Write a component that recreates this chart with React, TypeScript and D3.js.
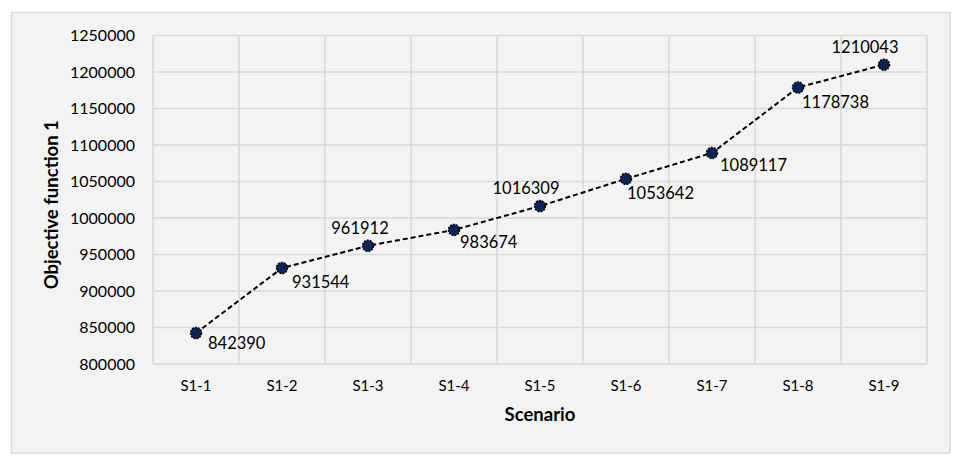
import React from "react";
import * as d3 from "d3";

const categories = ["S1-1", "S1-2", "S1-3", "S1-4", "S1-5", "S1-6", "S1-7", "S1-8", "S1-9"];
const values = [842390, 931544, 961912, 983674, 1016309, 1053642, 1089117, 1178738, 1210043];
const yTicks = [800000, 850000, 900000, 950000, 1000000, 1050000, 1100000, 1150000, 1200000, 1250000];
// label placement per point: [dx, dy, anchor]
const labelPlacement: [number, number, string][] = [
  [12, 16, "start"],
  [10, 20, "start"],
  [-8, -12, "middle"],
  [6, 18, "start"],
  [-14, -12, "middle"],
  [1, 20, "start"],
  [8, 18, "start"],
  [4, 20, "start"],
  [-19, -12, "middle"],
];

const W = 967;
const H = 467;
const plot = { left: 153, right: 927, top: 35.5, bottom: 364 };
const FONT = "Lato, 'Open Sans', sans-serif";

export default function App() {
  const x = d3
    .scaleBand<string>()
    .domain(categories)
    .range([plot.left, plot.right])
    .paddingInner(0)
    .paddingOuter(0);
  const y = d3.scaleLinear().domain([800000, 1250000]).range([plot.bottom, plot.top]);
  const cx = (c: string) => (x(c) ?? 0) + x.bandwidth() / 2;
  const line = d3
    .line<number>()
    .x((_, i) => cx(categories[i]))
    .y((d) => y(d));

  const gridX = categories.map((c) => x(c) ?? 0).concat([plot.right]);

  return (
    <svg
      width={W}
      height={H}
      style={{ position: "absolute", left: 0, top: 0, background: "#ffffff" }}
      fontFamily={FONT}
    >
      <rect x={11.5} y={12.5} width={938.5} height={440.5} fill="#f3f3f3" stroke="#d9d9d9" strokeWidth={1.5} />
      {yTicks.map((t) => (
        <line key={"gy" + t} x1={plot.left} x2={plot.right} y1={y(t)} y2={y(t)} stroke="#d9d9d9" strokeWidth={1.5} />
      ))}
      {gridX.map((gx, i) => (
        <line key={"gx" + i} x1={gx} x2={gx} y1={plot.top} y2={plot.bottom} stroke="#d9d9d9" strokeWidth={1.5} />
      ))}
      {yTicks.map((t) => (
        <text key={"yt" + t} x={135} y={y(t)} dy="0.35em" textAnchor="end" fontSize={16} fill="#000">
          {t}
        </text>
      ))}
      {categories.map((c) => (
        <text key={"xt" + c} x={cx(c)} y={391} textAnchor="middle" fontSize={15} fill="#000">
          {c}
        </text>
      ))}
      <text x={(plot.left + plot.right) / 2} y={421} textAnchor="middle" fontSize={18.5} fontWeight="bold" fill="#000">
        Scenario
      </text>
      <text
        transform={`translate(58, ${(plot.top + plot.bottom) / 2 + 5}) rotate(-90)`}
        textAnchor="middle"
        fontSize={18.5}
        fontWeight="bold"
        fill="#000"
      >
        Objective function 1
      </text>
      <path d={line(values) ?? ""} fill="none" stroke="#000" strokeWidth={2} strokeDasharray="5,3" />
      {values.map((v, i) => (
        <circle
          key={"m" + i}
          cx={cx(categories[i])}
          cy={y(v)}
          r={5.5}
          fill="#0b2459"
          stroke="#000"
          strokeWidth={1.5}
          strokeDasharray="2,1"
        />
      ))}
      {values.map((v, i) => {
        const [dx, dy, anchor] = labelPlacement[i];
        return (
          <text
            key={"l" + i}
            x={cx(categories[i]) + dx}
            y={y(v) + dy}
            textAnchor={anchor as any}
            fontSize={16.5}
            fill="#000"
          >
            {v}
          </text>
        );
      })}
    </svg>
  );
}
